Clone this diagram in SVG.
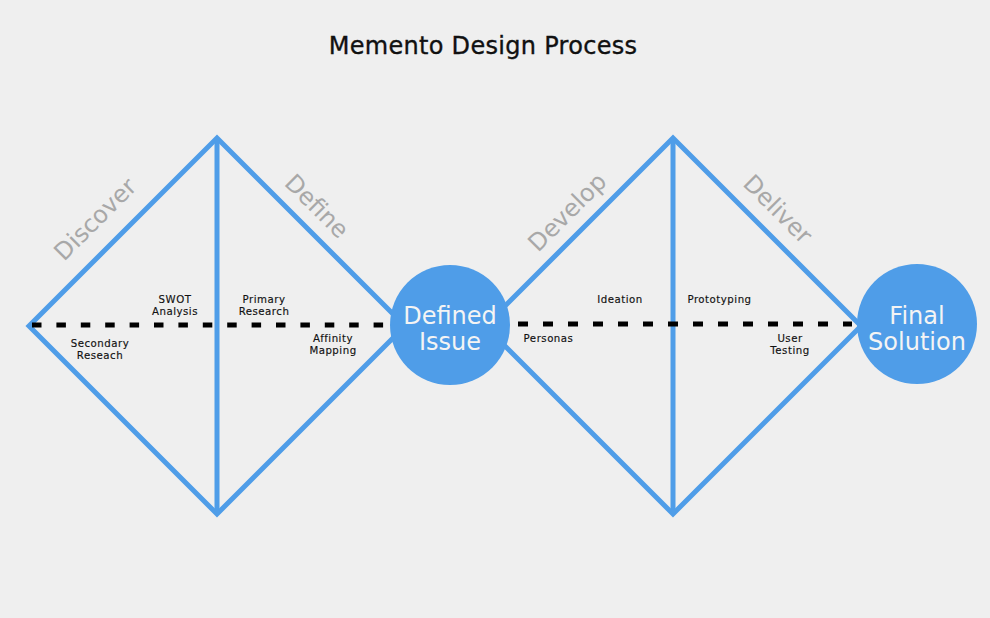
<svg xmlns="http://www.w3.org/2000/svg" width="990" height="618" viewBox="0 0 990 618">
<style>
.bg{fill:#efefef}
.edge{fill:none;stroke:#4f9de8;stroke-width:5;stroke-linejoin:miter}
.dash{fill:none;stroke:#000;stroke-width:5}
.circ{fill:#4f9de8}
.title{font-family:"DejaVu Sans",sans-serif;font-size:24px;letter-spacing:0.3px;fill:#111;stroke:#111;stroke-width:0.35px;text-anchor:middle}
.phase{font-family:"DejaVu Sans",sans-serif;font-size:24px;fill:#a8a8a8;text-anchor:middle}
.lbl{font-family:"DejaVu Sans",sans-serif;font-size:10.2px;letter-spacing:0.5px;fill:#111;stroke:#111;stroke-width:0.15px;text-anchor:middle}
.ctext{font-family:"DejaVu Sans",sans-serif;font-size:24px;fill:#f4f4f4;text-anchor:middle}
</style>
<rect class="bg" width="990" height="618"/>
<text class="title" x="483" y="54">Memento Design Process</text>
<g id="diamond-1">
<path class="edge" d="M217,138 L405,326 L217,514 L29,326 Z"/>
<line class="edge" x1="217" y1="138" x2="217" y2="514"/>
<text class="phase" transform="translate(101,225) rotate(-45)">Discover</text>
<text class="phase" transform="translate(311,212) rotate(45)">Define</text>
</g>
<g id="diamond-2">
<path class="edge" d="M673,138 L861,326 L673,514 L485,326 Z"/>
<line class="edge" x1="673" y1="138" x2="673" y2="514"/>
<text class="phase" transform="translate(573,218) rotate(-45)">Develop</text>
<text class="phase" transform="translate(772,215) rotate(45)">Deliver</text>
</g>
<g id="connectors">
<line class="dash" x1="32" y1="325" x2="386" y2="325" stroke-dasharray="9.5 14.9"/>
<line class="dash" x1="518" y1="324" x2="852" y2="324" stroke-dasharray="10 15"/>
</g>
<g id="labels">
<text class="lbl" x="175" y="302.5">SWOT</text>
<text class="lbl" x="175" y="314.5">Analysis</text>
<text class="lbl" x="264" y="302.5">Primary</text>
<text class="lbl" x="264" y="314.5">Research</text>
<text class="lbl" x="100" y="346.5">Secondary</text>
<text class="lbl" x="100" y="358.5">Reseach</text>
<text class="lbl" x="333" y="342">Affinity</text>
<text class="lbl" x="333" y="354">Mapping</text>
<text class="lbl" x="620" y="302.5">Ideation</text>
<text class="lbl" x="719.5" y="302.5">Prototyping</text>
<text class="lbl" x="548.5" y="342">Personas</text>
<text class="lbl" x="790" y="342">User</text>
<text class="lbl" x="790" y="354">Testing</text>
</g>
<g id="defined-issue">
<circle class="circ" cx="450" cy="325" r="60"/>
<text class="ctext" x="450" y="324">Defined</text>
<text class="ctext" x="450" y="350">Issue</text>
</g>
<g id="final-solution">
<circle class="circ" cx="917" cy="324" r="60"/>
<text class="ctext" x="917" y="324">Final</text>
<text class="ctext" x="917" y="350">Solution</text>
</g>
</svg>
